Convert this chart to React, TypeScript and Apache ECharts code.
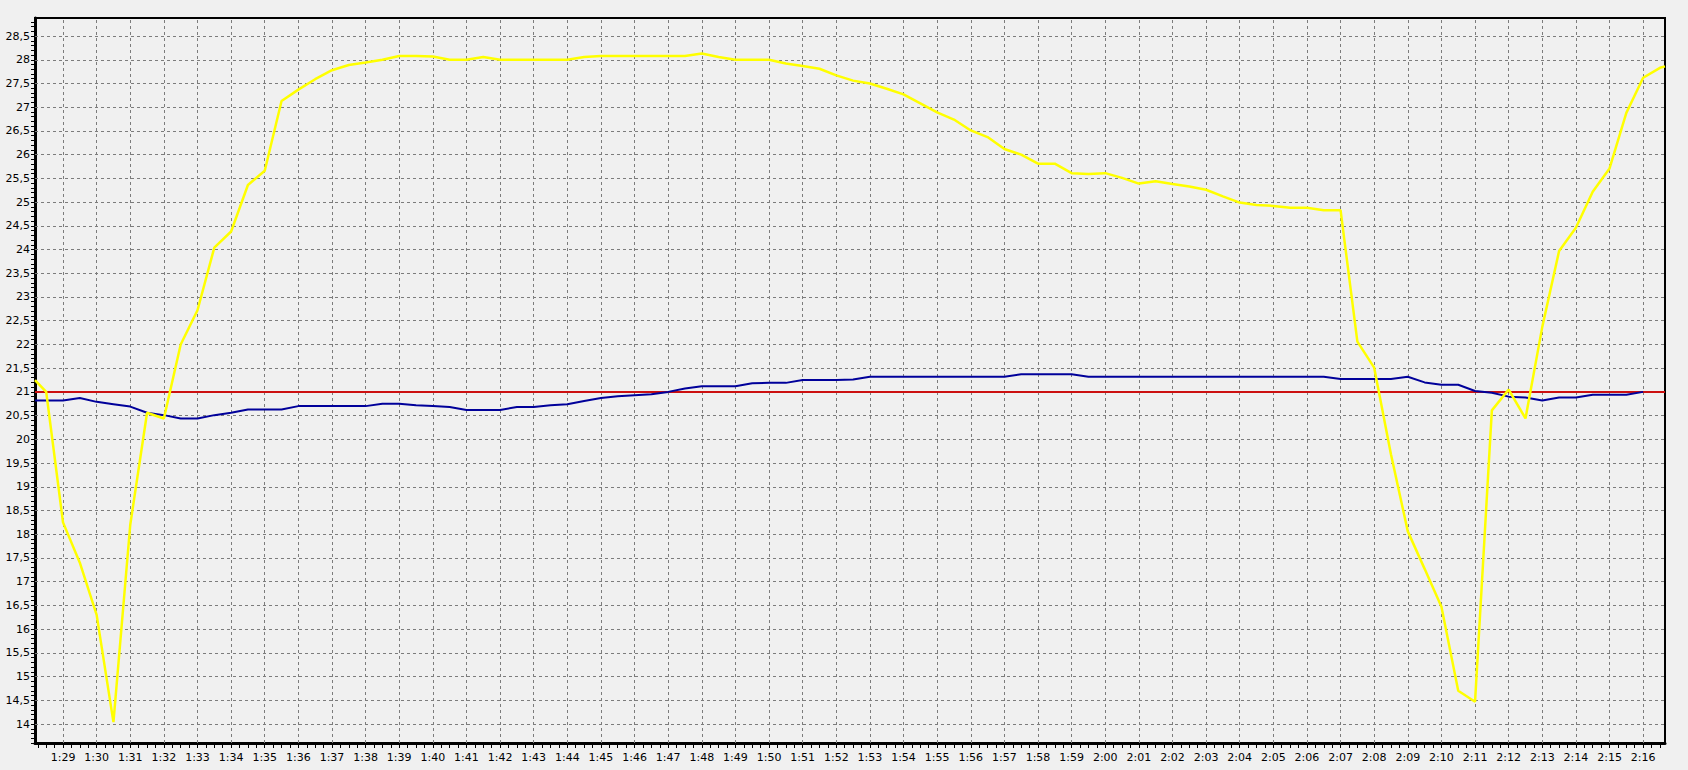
import React, { useEffect, useRef } from "react";
import * as echarts from "echarts";

// ---- data ----
const times: string[] = [
  "1:28:10", "1:28:30", "1:29:00", "1:29:30", "1:30:00", "1:30:30", "1:31:00", "1:31:30",
  "1:32:00", "1:32:30", "1:33:00", "1:33:30", "1:34:00", "1:34:30", "1:35:00", "1:35:30",
  "1:36:00", "1:36:30", "1:37:00", "1:37:30", "1:38:00", "1:38:30", "1:39:00", "1:39:30",
  "1:40:00", "1:40:30", "1:41:00", "1:41:30", "1:42:00", "1:42:30", "1:43:00", "1:43:30",
  "1:44:00", "1:44:30", "1:45:00", "1:45:30", "1:46:00", "1:46:30", "1:47:00", "1:47:30",
  "1:48:00", "1:48:30", "1:49:00", "1:49:30", "1:50:00", "1:50:30", "1:51:00", "1:51:30",
  "1:52:00", "1:52:30", "1:53:00", "1:53:30", "1:54:00", "1:54:30", "1:55:00", "1:55:30",
  "1:56:00", "1:56:30", "1:57:00", "1:57:30", "1:58:00", "1:58:30", "1:59:00", "1:59:30",
  "2:00:00", "2:00:30", "2:01:00", "2:01:30", "2:02:00", "2:02:30", "2:03:00", "2:03:30",
  "2:04:00", "2:04:30", "2:05:00", "2:05:30", "2:06:00", "2:06:30", "2:07:00", "2:07:30",
  "2:08:00", "2:08:30", "2:09:00", "2:09:30", "2:10:00", "2:10:30", "2:11:00", "2:11:30",
  "2:12:00", "2:12:30", "2:13:00", "2:13:30", "2:14:00", "2:14:30", "2:15:00", "2:15:30",
  "2:16:00", "2:16:30", "2:16:39",
];

const yellowTemp: number[] = [
  21.25, 21.0, 18.25, 17.4, 16.3, 14.04, 18.2, 20.56,
  20.44, 22.0, 22.72, 24.04, 24.38, 25.36, 25.66, 27.13,
  27.37, 27.59, 27.78, 27.89, 27.94, 28.0, 28.08, 28.08,
  28.07, 28.0, 28.0, 28.06, 28.0, 28.0, 28.0, 28.0,
  28.0, 28.06, 28.08, 28.08, 28.08, 28.08, 28.08, 28.08,
  28.13, 28.06, 28.0, 28.0, 28.0, 27.92, 27.87, 27.81,
  27.67, 27.56, 27.5, 27.39, 27.27, 27.08, 26.89, 26.74,
  26.51, 26.37, 26.12, 26.0, 25.81, 25.81, 25.61, 25.59,
  25.61, 25.51, 25.39, 25.44, 25.38, 25.33, 25.26, 25.12,
  24.99, 24.94, 24.92, 24.88, 24.88, 24.83, 24.83, 22.06,
  21.51, 19.68, 18.06, 17.27, 16.47, 14.7, 14.47, 20.61,
  21.05, 20.44, 22.37, 23.97, 24.46, 25.22, 25.71, 26.88,
  27.62, 27.83, 27.86,
];

const blueTemp: (number | null)[] = [
  20.82, 20.82, 20.82, 20.87, 20.79, 20.74, 20.69, 20.56,
  20.51, 20.44, 20.44, 20.51, 20.56, 20.63, 20.63, 20.63,
  20.7, 20.7, 20.7, 20.7, 20.7, 20.75, 20.75, 20.72,
  20.7, 20.68, 20.62, 20.62, 20.62, 20.68, 20.68, 20.72,
  20.74, 20.81, 20.87, 20.91, 20.93, 20.95, 21.0, 21.07,
  21.12, 21.12, 21.12, 21.18, 21.19, 21.19, 21.25, 21.25,
  21.25, 21.26, 21.32, 21.32, 21.32, 21.32, 21.32, 21.32,
  21.32, 21.32, 21.32, 21.37, 21.37, 21.37, 21.37, 21.32,
  21.32, 21.32, 21.32, 21.32, 21.32, 21.32, 21.32, 21.32,
  21.32, 21.32, 21.32, 21.32, 21.32, 21.32, 21.27, 21.27,
  21.27, 21.27, 21.32, 21.2, 21.15, 21.15, 21.02, 20.98,
  20.9, 20.88, 20.82, 20.88, 20.88, 20.94, 20.94, 20.94,
  21.0, null, null,
];

const setpoint = 21;

const xTickLabels: string[] = [
  "1:29", "1:30", "1:31", "1:32", "1:33", "1:34", "1:35", "1:36", "1:37", "1:38",
  "1:39", "1:40", "1:41", "1:42", "1:43", "1:44", "1:45", "1:46", "1:47", "1:48",
  "1:49", "1:50", "1:51", "1:52", "1:53", "1:54", "1:55", "1:56", "1:57", "1:58",
  "1:59", "2:00", "2:01", "2:02", "2:03", "2:04", "2:05", "2:06", "2:07", "2:08",
  "2:09", "2:10", "2:11", "2:12", "2:13", "2:14", "2:15", "2:16",
];

const yTickLabels: number[] = [
  14, 14.5, 15, 15.5, 16, 16.5, 17, 17.5, 18, 18.5, 19, 19.5, 20, 20.5, 21, 21.5,
  22, 22.5, 23, 23.5, 24, 24.5, 25, 25.5, 26, 26.5, 27, 27.5, 28, 28.5,
];

const yMin = 13.6;
const yMax = 28.88;

// ---- helpers ----
const toSec = (s: string): number => {
  const p = s.split(":").map(Number);
  return p[0] * 3600 + p[1] * 60 + (p[2] || 0);
};
const fmtTime = (v: number): string => {
  const h = Math.floor(v / 3600);
  const m = Math.round((v - h * 3600) / 60);
  return `${h}:${m < 10 ? "0" : ""}${m}`;
};

const FONT = "'DejaVu Sans', Verdana, sans-serif";

export default function App() {
  const ref = useRef<HTMLDivElement>(null);

  useEffect(() => {
    document.body.style.margin = "0";
    document.body.style.background = "#f0f0f0";
    if (!ref.current) return;
    const chart = echarts.init(ref.current, undefined, { renderer: "svg" });

    const xMin = toSec(times[0]);
    const xMax = toSec(times[times.length - 1]);
    const xMajor = xTickLabels.map(toSec);
    const xMinor: number[] = [];
    for (let t = Math.ceil(xMin / 15) * 15; t <= xMax; t += 15) xMinor.push(t);
    const yMinor: number[] = [];
    for (let k = Math.ceil(yMin * 10); k <= Math.floor(yMax * 10); k++) yMinor.push(k / 10);

    const yellowData = times.map((t, i) => [toSec(t), yellowTemp[i]]);
    const blueData = times.map((t, i) => [toSec(t), blueTemp[i]]);
    const redData = [
      [xMin, setpoint],
      [xMax, setpoint],
    ];

    const gridLines = [
      ...xMajor.map((v) => ({ xAxis: v })),
      ...yTickLabels.map((v) => ({ yAxis: v })),
    ];

    chart.setOption({
      animation: false,
      backgroundColor: "#f0f0f0",
      textStyle: { fontFamily: FONT },
      grid: {
        left: 35,
        right: 23,
        top: 18,
        bottom: 27,
        show: true,
        borderColor: "#000",
        borderWidth: 2,
        backgroundColor: "transparent",
        outerBoundsMode: "none",
      },
      xAxis: [
        {
          type: "value",
          min: xMin,
          max: xMax,
          position: "bottom",
          axisLine: { show: true, onZero: false, lineStyle: { color: "#000", width: 3 } },
          axisTick: { show: false, customValues: xMajor },
          axisLabel: {
            customValues: xMajor,
            formatter: (v: number) => fmtTime(v),
            color: "#000",
            fontFamily: FONT,
            fontSize: 11,
            margin: 9,
          },
          splitLine: { show: false },
        },
        {
          type: "value",
          min: xMin,
          max: xMax,
          position: "bottom",
          axisLine: { show: false, onZero: false },
          axisTick: { show: true, customValues: xMinor, length: 5, lineStyle: { color: "#000", width: 1 } },
          axisLabel: { show: false },
          splitLine: { show: false },
        },
      ],
      yAxis: [
        {
          type: "value",
          min: yMin,
          max: yMax,
          position: "left",
          axisLine: { show: true, onZero: false, lineStyle: { color: "#000", width: 3 } },
          axisTick: { show: false, customValues: yTickLabels },
          axisLabel: {
            customValues: yTickLabels,
            formatter: (v: number) => String(v).replace(".", ","),
            color: "#000",
            fontFamily: FONT,
            fontSize: 11,
            margin: 5,
          },
          splitLine: { show: false },
        },
        {
          type: "value",
          min: yMin,
          max: yMax,
          position: "left",
          axisLine: { show: false, onZero: false },
          axisTick: { show: true, customValues: yMinor, length: 4, lineStyle: { color: "#000", width: 1 } },
          axisLabel: { show: false },
          splitLine: { show: false },
        },
      ],
      series: [
        {
          name: "grid",
          type: "line",
          data: [],
          symbol: "none",
          silent: true,
          z: 1,
          markLine: {
            silent: true,
            z: 1,
            symbol: ["none", "none"],
            label: { show: false },
            emphasis: { disabled: true },
            lineStyle: { color: "#7c7c7c", width: 1, type: [3, 3] },
            data: gridLines,
          },
        },
        {
          name: "setpoint",
          type: "line",
          data: redData,
          symbol: "none",
          lineStyle: { color: "#cc1010", width: 2 },
          itemStyle: { color: "#cc1010" },
          z: 6,
        },
        {
          name: "blue",
          type: "line",
          data: blueData,
          symbol: "none",
          connectNulls: false,
          lineStyle: { color: "#00009a", width: 2 },
          itemStyle: { color: "#00009a" },
          z: 7,
        },
        {
          name: "yellow",
          type: "line",
          data: yellowData,
          symbol: "none",
          lineStyle: { color: "#ffff00", width: 2.5 },
          itemStyle: { color: "#ffff00" },
          z: 8,
        },
      ],
    });

    return () => chart.dispose();
  }, []);

  return (
    <div
      ref={ref}
      style={{ position: "absolute", left: 0, top: 0, width: 1688, height: 770, background: "#f0f0f0" }}
    />
  );
}
